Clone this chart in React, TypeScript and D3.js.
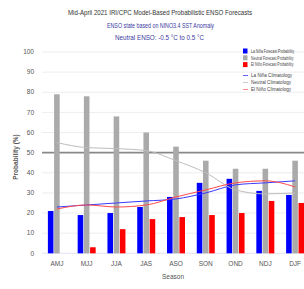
import React from "react";
import * as d3 from "d3";

const seasons = ["AMJ", "MJJ", "JJA", "JAS", "ASO", "SON", "OND", "NDJ", "DJF"];
const laNinaProb = [21, 19, 20, 23, 28, 35, 37, 31, 29];
const neutralProb = [79, 78, 68, 60, 53, 46, 42, 42, 46];
const elNinoProb = [0, 3, 12, 17, 18, 19, 20, 26, 25];
const laNinaClim = [23, 24, 25, 26, 27, 30, 34, 35, 36];
const neutralClim = [55, 52.5, 52, 51, 46, 40, 31.5, 29.5, 30];
const elNinoClim = [22, 24, 23, 24, 28, 31.5, 35, 36, 33];
const yTicks = [0, 10, 20, 30, 40, 50, 60, 70, 80, 90, 100];
const seriesNames = ["La Niña Forecast Probability", "Neutral Forecast Probability", "El Niño Forecast Probability"];
const climNames = ["La Niña Climatology", "Neutral Climatology", "El Niño Climatology"];

const W = 304, H = 289;
const left = 42, right = 310, top = 52, bottom = 253.3;

export default function App() {
  const x = d3.scaleBand<string>().domain(seasons).range([left, right]);
  const y = d3.scaleLinear().domain([0, 100]).range([bottom, top]);
  const inner = d3.scaleBand<string>().domain(["a", "b", "c"]).range([-9, 9]).paddingInner(0.1);
  const barSeries = [
    { key: "a", vals: laNinaProb, color: "#0000ff" },
    { key: "b", vals: neutralProb, color: "#aaaaaa" },
    { key: "c", vals: elNinoProb, color: "#ff0000" },
  ];
  const cx = (s: string) => (x(s) as number) + x.bandwidth() / 2;
  const line = d3.line<number>().x((_, i) => cx(seasons[i])).y(d => y(d)).curve(d3.curveMonotoneX);
  const lines = [
    { vals: laNinaClim, color: "#3a3aff" },
    { vals: neutralClim, color: "#bdbdbd" },
    { vals: elNinoClim, color: "#ff4a4a" },
  ];
  const font = "Liberation Sans, Arial, sans-serif";
  const legColors = ["#0000ff", "#aaaaaa", "#ff0000"];
  const legLineColors = ["#3a3aff", "#bdbdbd", "#ff6a6a"];
  return (
    <svg width={W} height={H} style={{ position: "absolute", left: 0, top: 0, background: "#fff" }} fontFamily={font}>
      <text x={160} y={15} fontSize={7.5} textAnchor="middle" fill="#333" textLength={184} lengthAdjust="spacingAndGlyphs">
        Mid-April 2021 IRI/CPC Model-Based Probabilistic ENSO Forecasts
      </text>
      <text x={160.5} y={28} fontSize={6.5} textAnchor="middle" fill="#3a3aa0" textLength={107} lengthAdjust="spacingAndGlyphs">
        ENSO state based on NINO3.4 SST Anomaly
      </text>
      <text x={159.5} y={39.5} fontSize={6.5} textAnchor="middle" fill="#3a3aa0" textLength={89} lengthAdjust="spacingAndGlyphs">
        Neutral ENSO: -0.5 °C to 0.5 °C
      </text>
      {yTicks.map(t => (
        <g key={t}>
          <line x1={left} x2={W} y1={y(t)} y2={y(t)} stroke={t === 50 ? "#888" : t === 0 ? "#d8dcec" : "#e8e8e8"} strokeWidth={t === 50 ? 1.6 : 0.8} />
          <text x={34} y={y(t) + 2.2} fontSize={6.5} textAnchor="end" fill="#555">{t}</text>
        </g>
      ))}
      <text transform={`translate(18,${157}) rotate(-90)`} fontSize={6.5} fontWeight="bold" textAnchor="middle" fill="#555">Probability (%)</text>
      {barSeries.map(s => (
        <g key={s.key}>
          {s.vals.map((v, i) => v > 0 && (
            <rect key={i} x={cx(seasons[i]) + (inner(s.key) as number)} width={inner.bandwidth()} y={y(v)} height={y(0) - y(v)} fill={s.color} />
          ))}
        </g>
      ))}
      {lines.map((l, i) => (
        <path key={i} d={line(l.vals) || ""} fill="none" stroke={l.color} strokeWidth={1} />
      ))}
      {seasons.map(s => (
        <text key={s} x={cx(s)} y={266} fontSize={6.5} textAnchor="middle" fill="#555">{s}</text>
      ))}
      <text x={173} y={279} fontSize={6.5} textAnchor="middle" fill="#555">Season</text>
      {seriesNames.map((n, i) => (
        <g key={n}>
          <rect x={243} y={48.5 + i * 6.8} width={4.5} height={5} fill={legColors[i]} />
          <g transform={`translate(251,${52.8 + i * 6.8}) scale(0.75,1)`}>
            <text x={0} y={0} fontSize={4.6} fill="#444">{n}</text>
          </g>
        </g>
      ))}
      {climNames.map((n, i) => (
        <g key={n}>
          <line x1={243} x2={248} y1={75.5 + i * 7} y2={75.5 + i * 7} stroke={legLineColors[i]} strokeWidth={0.8} />
          <text x={251} y={77.3 + i * 7} fontSize={4.6} fill="#444">{n}</text>
        </g>
      ))}
    </svg>
  );
}
